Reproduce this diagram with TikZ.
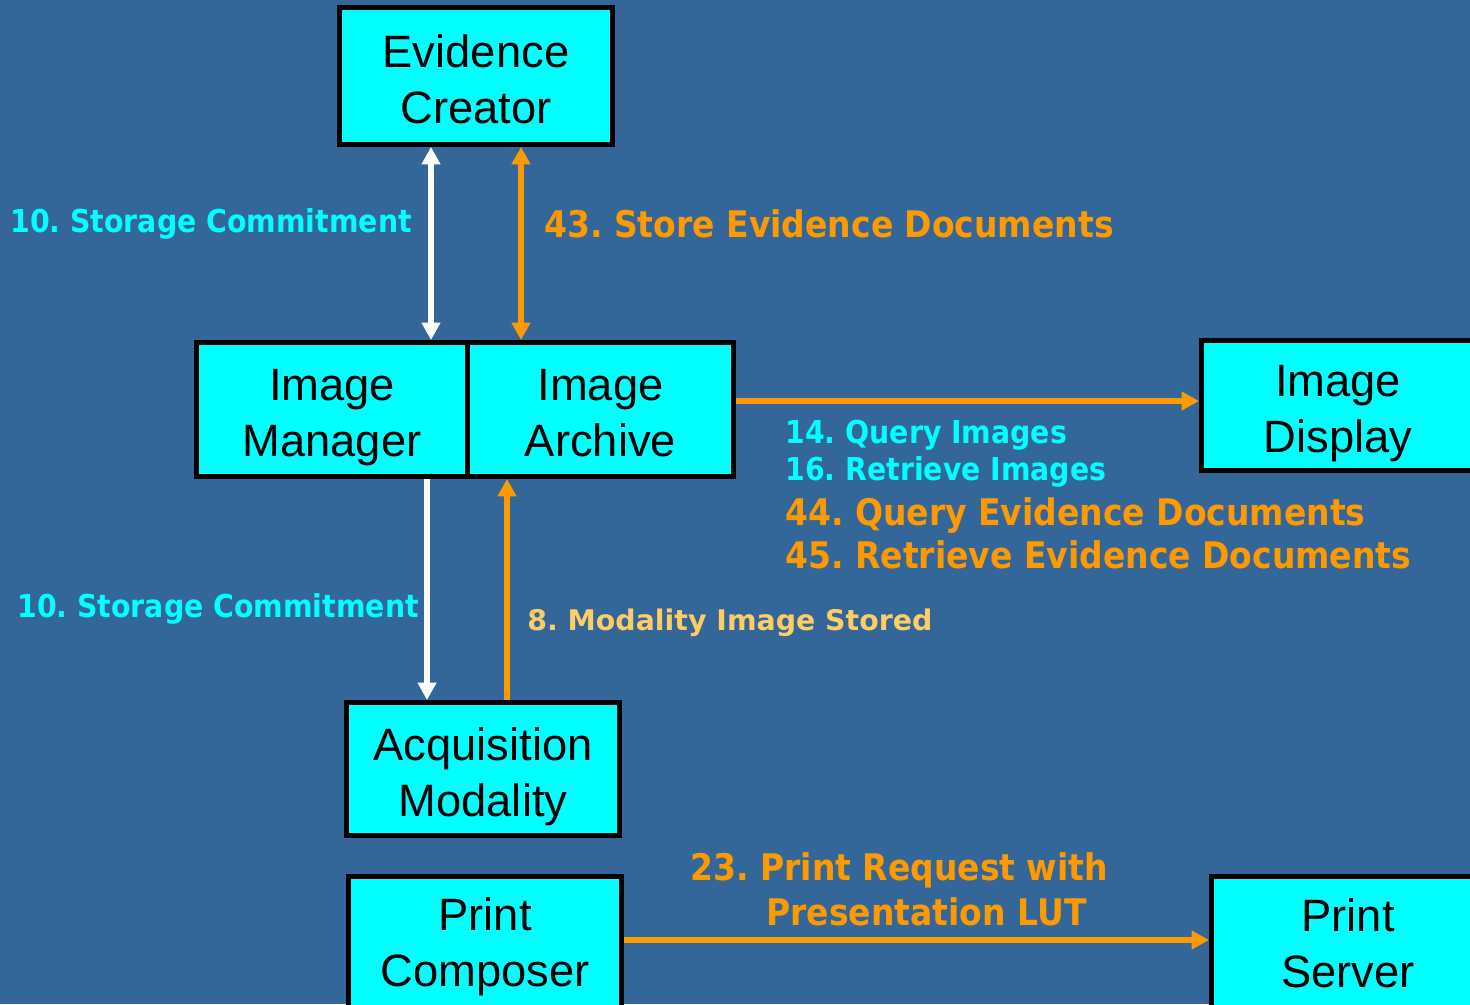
\documentclass[tikz,border=0pt]{standalone}
\usepackage{fontspec}
\setmainfont{Liberation Sans}
\newfontfamily\lblfont{DejaVu Sans}[FakeStretch=0.9]
\newfontfamily\lblwide{DejaVu Sans}
\usetikzlibrary{arrows.meta}
\definecolor{bgblue}{HTML}{336699}
\definecolor{boxcyan}{HTML}{00FFFF}
\definecolor{arrorange}{HTML}{FF9900}
\definecolor{lightorange}{HTML}{FFCC66}
\newcommand\topstrut{\rule{0pt}{36.5pt}}
\newcommand\topstrutlow{\rule{0pt}{32pt}}
\newcommand\botstrut{\rule[-8pt]{0pt}{0pt}}
\begin{document}
\frenchspacing
\begin{tikzpicture}[x=0.75pt,y=-0.75pt,
  box/.style={draw=black, fill=boxcyan, line width=3.75pt, inner sep=0pt,
    align=center, text=black, font=\fontsize{34}{42}\selectfont},
  cyanlbl/.style={anchor=base west, inner sep=0pt, text=boxcyan,
    font=\lblfont\bfseries\fontsize{23.65}{28}\selectfont},
  orangelbl/.style={anchor=base west, inner sep=0pt, text=arrorange,
    font=\lblfont\bfseries\fontsize{27.5}{33}\selectfont},
  yellowlbl/.style={anchor=base west, inner sep=0pt, text=lightorange,
    font=\lblwide\bfseries\fontsize{21.3}{26}\selectfont},
  conn/.style={line width=4pt, -{Triangle[width=13.5pt,length=13pt]}},
  dconn/.style={line width=4pt, {Triangle[width=13.5pt,length=13pt]}-{Triangle[width=13.5pt,length=13pt]}},
]
\useasboundingbox (0,0) rectangle (1470,1004);
\fill[bgblue] (0,0) rectangle (1470,1004);

% boxes
\node[box, minimum width=204.75pt, minimum height=102.75pt] (ec) at (476,76) {\topstrut Evidence\\Creator\botstrut};
\node[box, minimum width=203.25pt, minimum height=100.5pt] (im) at (332,409.5) {\topstrut Image\\Manager\botstrut};
\node[box, minimum width=199.5pt, minimum height=100.5pt] (ia) at (600.5,409.5) {\topstrut Image\\Archive\botstrut};
\node[box, minimum width=204.75pt, minimum height=97.5pt] (id) at (1338,405.5) {\topstrut Image\\Display\botstrut};
\node[box, minimum width=204.75pt, minimum height=99.75pt] (am) at (483,769) {\topstrut Acquisition\\Modality\botstrut};
\node[box, minimum width=204.75pt, minimum height=99.75pt] (pc) at (485,942.5) {\topstrutlow Print\\Composer\botstrut};
\node[box, minimum width=204.75pt, minimum height=99.75pt] (ps) at (1348,943) {\topstrutlow Print\\Server\botstrut};

% connector x positions
\coordinate (xa) at (431,0);
\coordinate (xb) at (521,0);
\coordinate (xc) at (427,0);
\coordinate (xd) at (507,0);
\coordinate (ya) at (0,401);
\coordinate (yb) at (0,940);

% connectors
\draw[dconn, white] (ec.south -| xa) -- (im.north -| xa);
\draw[dconn, arrorange] (ec.south -| xb) -- (ia.north -| xb);
\draw[conn, white] (im.south -| xc) -- (am.north -| xc);
\draw[conn, arrorange] (am.north -| xd) -- (ia.south -| xd);
\draw[conn, arrorange] (ia.east |- ya) -- (id.west |- ya);
\draw[conn, arrorange] (pc.east |- yb) -- (ps.west |- yb);

% labels
\node[cyanlbl] (l10a) at (10,232) {10. Storage Commitment};
\node[orangelbl] (l43) at (544,237.5) {43. Store Evidence Documents};
\node[cyanlbl] (l14) at (785,443) {14. Query Images};
\node[cyanlbl] (l16) at (785,480) {16. Retrieve Images};
\node[orangelbl] (l44) at (785,525) {44. Query Evidence Documents};
\node[orangelbl] (l45) at (785,568) {45. Retrieve Evidence Documents};
\node[cyanlbl] (l10b) at (17,617) {10. Storage Commitment};
\node[yellowlbl] (l8) at (527,630) {8. Modality Image Stored};
\node[orangelbl] (l23a) at (690,880) {23. Print Request with};
\node[orangelbl] (l23b) at (766,925) {Presentation LUT};
\end{tikzpicture}
\end{document}
